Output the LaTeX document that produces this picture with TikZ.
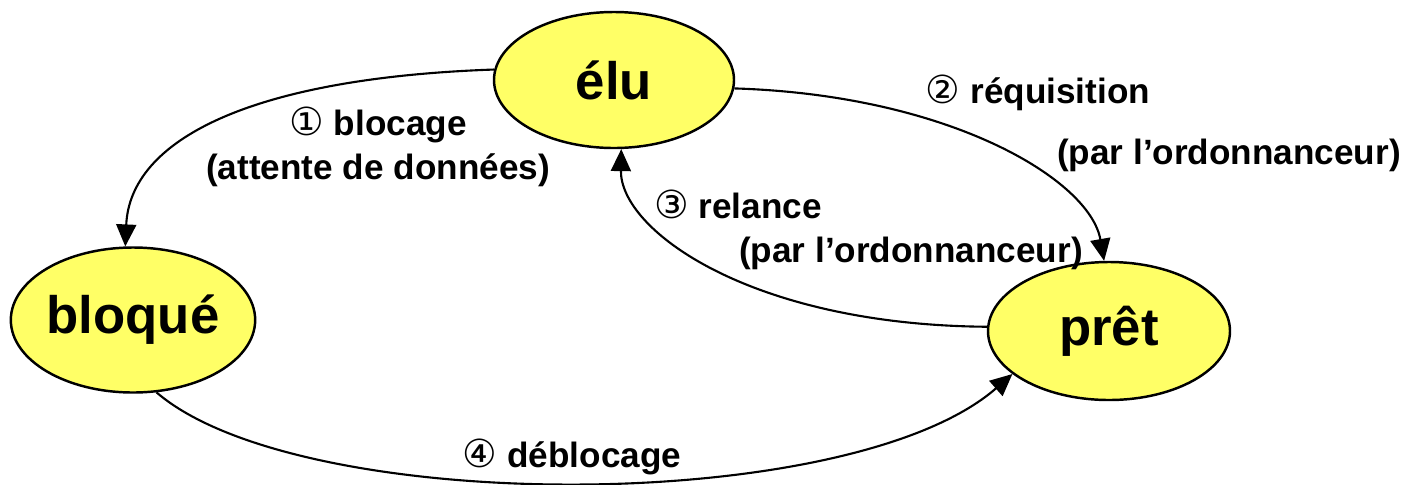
\documentclass[tikz,border=0pt]{standalone}
\usepackage{fontspec}
\setmainfont{Liberation Sans}
\newfontfamily\numfont{DejaVu Sans}
\usetikzlibrary{arrows.meta,shapes.geometric}
\definecolor{stYellow}{HTML}{FFFF66}
\definecolor{stInk}{HTML}{000000}
\tikzset{
  stArrow/.style={-{Triangle[length=2.2mm,width=2mm]},line width=0.6pt,draw=stInk},
  stState/.style={ellipse,draw=stInk,fill=stYellow,line width=0.7pt,inner sep=0pt,
    font=\fontsize{15}{17}\selectfont\bfseries,text=stInk},
  stLabel/.style={font=\fontsize{10}{12}\selectfont\bfseries,text=stInk,inner sep=1pt}
}
\newcommand{\stNum}[1]{{\numfont\mdseries\fontsize{11}{12}\selectfont #1}}

\begin{document}
\begin{tikzpicture}[x=1cm,y=1cm]
\path[use as bounding box] (0,0) rectangle (14.08,4.84);
% the three process states
\node[stState,minimum width=24mm,minimum height=13.6mm] (elu) at (6.14,4.04) {élu};
\node[stState,minimum width=24mm,minimum height=14.5mm] (bloque) at (1.33,1.64) {bloqué};
\node[stState,minimum width=24.2mm,minimum height=13.8mm] (pret) at (11.09,1.53) {prêt};
% transitions
\draw[stArrow] (elu.175) .. controls (2.50,4.06) and (1.30,3.44) .. (bloque.96);
\draw[stArrow] (elu.-4) .. controls (9.50,3.89) and (10.90,3.04) .. (pret.94);
\draw[stArrow] (pret.178) .. controls (7.50,1.59) and (6.20,2.54) .. (elu.-84);
\draw[stArrow] (bloque.-72) .. controls (3.00,-0.32) and (8.50,-0.32) .. (pret.204);
% transition labels
\node[stLabel] (l1a) at (3.78,3.59) {\stNum{①} blocage};
\node[stLabel] (l1b) at (3.78,3.14) {(attente de données)};
\node[stLabel] (l2a) at (10.38,3.91) {\stNum{②} réquisition};
\node[stLabel] (l2b) at (12.29,3.29) {(par l’ordonnanceur)};
\node[stLabel] (l3a) at (7.38,2.80) {\stNum{③} relance};
\node[stLabel] (l3b) at (9.11,2.31) {(par l’ordonnanceur)};
\node[stLabel] (l4) at (5.72,0.27) {\stNum{④} déblocage};
\end{tikzpicture}
\end{document}
